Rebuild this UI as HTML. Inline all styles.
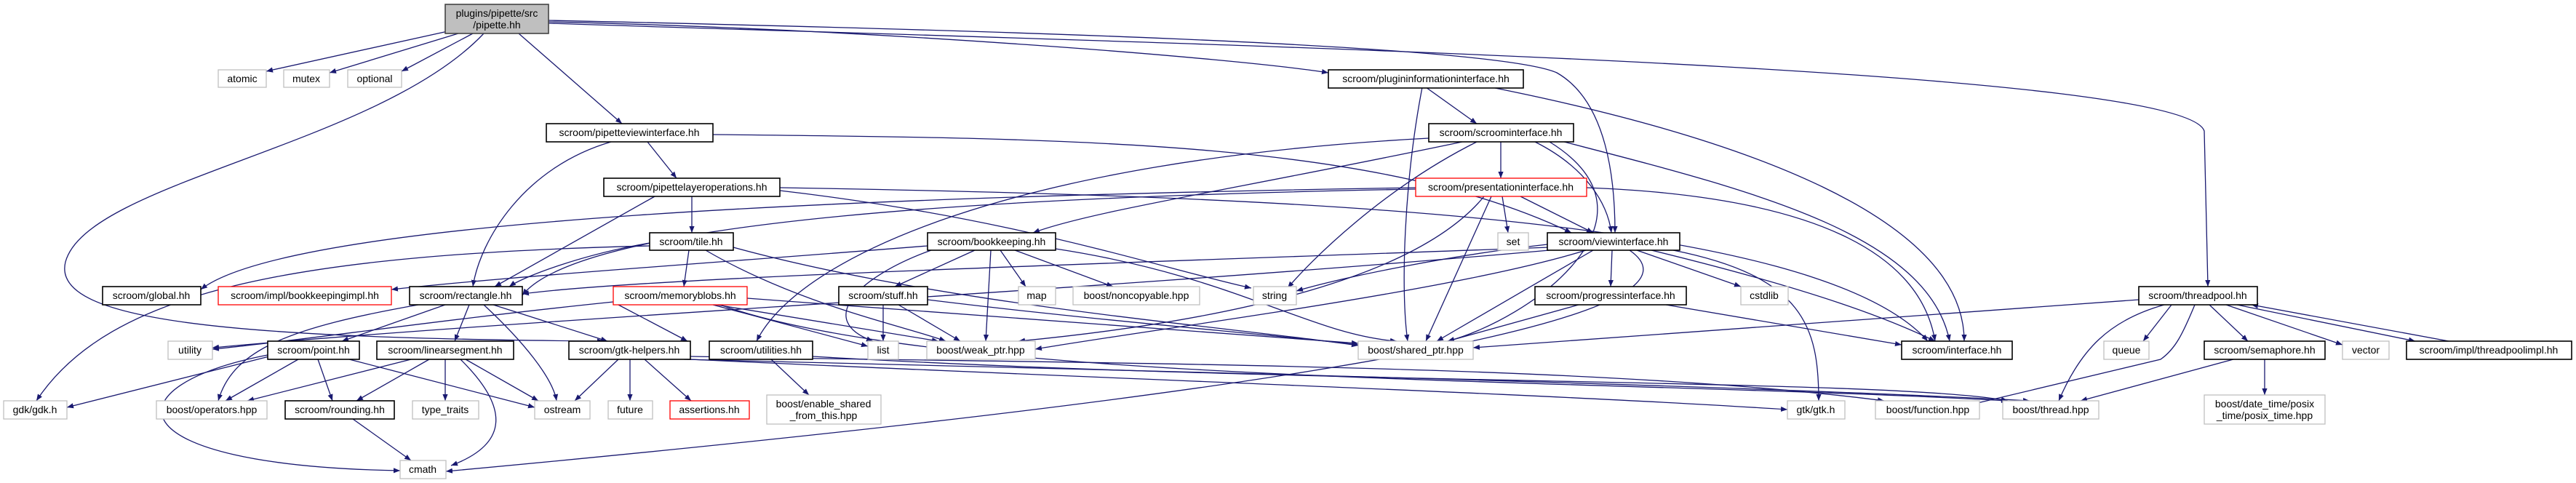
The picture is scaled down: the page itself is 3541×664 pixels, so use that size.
<!DOCTYPE html>
<html><head><meta charset="utf-8"><style>
html,body{margin:0;padding:0;background:#fff;}
svg{display:block;}
text{font-family:"Liberation Sans",sans-serif;font-size:14px;fill:#000;text-anchor:middle;}
.e{fill:none;stroke:#191970;stroke-width:1.3;marker-end:url(#a);}
.n{fill:#fff;stroke:#000;stroke-width:1.6;}
.s{fill:#fff;stroke:#bfbfbf;stroke-width:1.3;}
.r{fill:#fff;stroke:#ff0000;stroke-width:1.3;}
</style></head><body>
<svg width="3541" height="664" viewBox="0 0 3541 664" xmlns="http://www.w3.org/2000/svg">
<defs><marker id="a" viewBox="0 0 10 10" refX="10" refY="5" markerWidth="9" markerHeight="9" markerUnits="userSpaceOnUse" orient="auto"><path d="M0,1 L10,5 L0,9 z" fill="#191970"/></marker></defs>
<g>
<!-- pipette edges -->
<path class="e" d="M620 42 L366 98"/>
<path class="e" d="M630 46 L453 100"/>
<path class="e" d="M650 46 L552 98"/>
<path class="e" d="M665 46 C520 200,120 250,90 360 C70 440,300 465,830 469"/>
<path class="e" d="M713 46 L855 170"/>
<path class="e" d="M754 30 C1200 40,1700 80,1826 100"/>
<path class="e" d="M754 28 C1300 40,2050 60,2140 100 C2210 140,2220 250,2220 320"/>
<path class="e" d="M754 32 C1600 60,3000 90,3030 180 L3035 394"/>
<!-- pipetteview -->
<path class="e" d="M840 195 C720 230,660 330,650 394"/>
<path class="e" d="M890 195 L930 245"/>
<path class="e" d="M980 185 C1500 190,1900 195,2160 320"/>
<!-- pipettelayer -->
<path class="e" d="M951 270 L951 320"/>
<path class="e" d="M900 270 L680 394"/>
<path class="e" d="M1072 262 C1400 300,1600 370,1720 396"/>
<path class="e" d="M1072 258 C1800 270,2500 300,2650 469"/>
<!-- plugininfo -->
<path class="e" d="M1960 120 L2030 170"/>
<path class="e" d="M1955 120 C1930 250,1925 400,1935 469"/>
<path class="e" d="M2050 120 C2400 190,2700 300,2700 469"/>
<!-- scroominterface -->
<path class="e" d="M2063 195 L2063 245"/>
<path class="e" d="M2110 195 C2180 230,2210 280,2215 320"/>
<path class="e" d="M2010 195 C1700 260,1500 290,1420 320"/>
<path class="e" d="M2030 195 C1900 260,1800 360,1770 396"/>
<path class="e" d="M2130 195 C2300 300,2100 440,1990 469"/>
<path class="e" d="M2150 195 C2400 260,2650 320,2680 469"/>
<path class="e" d="M1964 190 C1400 220,1100 350,1040 469"/>
<!-- presentation -->
<path class="e" d="M2065 270 L2073 320"/>
<path class="e" d="M2090 270 L2190 320"/>
<path class="e" d="M2050 270 L1960 469"/>
<path class="e" d="M2040 270 C1950 380,1700 440,1400 469"/>
<path class="e" d="M1946 260 C1400 270,800 300,718 406"/>
<path class="e" d="M2181 258 C2500 270,2640 350,2660 469"/>
<path class="e" d="M1946 258 C1200 270,400 300,276 398"/>
<!-- tile -->
<path class="e" d="M947 344 L940 394"/>
<path class="e" d="M893 334 C800 350,720 380,700 394"/>
<path class="e" d="M1008 340 C1300 420,1700 450,1867 475"/>
<path class="e" d="M970 344 C1100 420,1250 450,1300 469"/>
<path class="e" d="M893 338 C400 350,150 400,50 551"/>
<!-- bookkeeping -->
<path class="e" d="M1340 344 L1230 394"/>
<path class="e" d="M1375 344 L1410 394"/>
<path class="e" d="M1395 344 L1530 394"/>
<path class="e" d="M1362 344 L1355 469"/>
<path class="e" d="M1451 342 C1700 380,1800 460,1920 469"/>
<path class="e" d="M1280 344 C1180 380,1120 440,1200 469"/>
<path class="e" d="M1275 338 C1000 360,700 380,538 398"/>
<!-- viewinterface -->
<path class="e" d="M2216 344 L2214 394"/>
<path class="e" d="M2250 344 L2393 394"/>
<path class="e" d="M2300 344 C2480 380,2500 450,2500 551"/>
<path class="e" d="M2270 344 C2500 400,2600 440,2660 469"/>
<path class="e" d="M2190 344 L1975 469"/>
<path class="e" d="M2180 344 C2000 400,1600 450,1423 480"/>
<path class="e" d="M2130 340 C1600 360,900 380,718 404"/>
<path class="e" d="M2127 336 C2000 350,1850 380,1782 400"/>
<path class="e" d="M2240 344 C2350 420,2000 520,613 648"/>
<path class="e" d="M2130 344 C1500 400,700 440,292 478"/>
<!-- progress -->
<path class="e" d="M2170 419 L1990 469"/>
<path class="e" d="M2290 419 L2614 474"/>
<!-- memoryblobs -->
<path class="e" d="M850 419 L945 469"/>
<path class="e" d="M980 419 L1193 476"/>
<path class="e" d="M985 419 L1290 469"/>
<path class="e" d="M1027 410 C1400 440,1700 460,1867 472"/>
<path class="e" d="M843 415 C600 440,400 470,292 480"/>
<path class="e" d="M990 419 C1300 530,2200 520,2760 551"/>
<!-- stuff -->
<path class="e" d="M1214 419 L1214 469"/>
<path class="e" d="M1235 419 L1320 469"/>
<path class="e" d="M1275 412 C1500 440,1750 460,1867 474"/>
<!-- rectangle -->
<path class="e" d="M612 419 L470 469"/>
<path class="e" d="M645 419 L625 469"/>
<path class="e" d="M678 419 L835 469"/>
<path class="e" d="M665 419 C720 470,760 520,765 551"/>
<path class="e" d="M575 419 C400 450,320 480,300 551"/>
<!-- point -->
<path class="e" d="M370 490 L92 560"/>
<path class="e" d="M410 494 L310 551"/>
<path class="e" d="M437 494 L457 551"/>
<path class="e" d="M480 494 L735 560"/>
<path class="e" d="M368 488 C150 530,150 640,550 647"/>
<!-- linearsegment -->
<path class="e" d="M565 494 L340 551"/>
<path class="e" d="M590 494 L490 551"/>
<path class="e" d="M612 494 L612 551"/>
<path class="e" d="M640 494 L740 551"/>
<path class="e" d="M633 494 C700 560,700 610,620 640"/>
<path class="e" d="M485 576 L565 633"/>
<!-- gtk-helpers -->
<path class="e" d="M850 494 L790 551"/>
<path class="e" d="M866 494 L866 551"/>
<path class="e" d="M886 494 L950 551"/>
<path class="e" d="M949 490 C1500 500,2200 500,2590 551"/>
<path class="e" d="M940 494 C1600 510,2400 530,2790 551"/>
<path class="e" d="M949 494 C1500 520,2100 540,2457 563"/>
<!-- utilities -->
<path class="e" d="M1060 494 L1112 543"/>
<path class="e" d="M1117 490 C1800 530,2600 520,2760 551"/>
<!-- threadpool -->
<path class="e" d="M2985 419 L2946 469"/>
<path class="e" d="M3037 419 L3090 469"/>
<path class="e" d="M3060 419 L3220 474"/>
<path class="e" d="M3075 419 L3320 469"/>
<path class="e" d="M3366 469 L3095 419"/>
<path class="e" d="M2975 419 C2900 440,2860 480,2830 551"/>
<path class="e" d="M3017 419 C3000 460,2990 480,2970 494 L2710 556"/>
<path class="e" d="M2940 412 L2025 478"/>
<path class="e" d="M3113 494 L3113 543"/>
<path class="e" d="M3070 494 L2860 551"/>
</g>
<!-- nodes -->
<rect x="612" y="6" width="142" height="40" fill="#bfbfbf" stroke="#444" stroke-width="1.6"/>
<text x="683" y="23">plugins/pipette/src</text><text x="683" y="39">/pipette.hh</text>
<g>
<rect class="s" x="300" y="96" width="66" height="24"/><text x="333" y="113">atomic</text>
<rect class="s" x="390" y="96" width="63" height="24"/><text x="421" y="113">mutex</text>
<rect class="s" x="478" y="96" width="74" height="24"/><text x="515" y="113">optional</text>
<rect class="n" x="751" y="170" width="229" height="25"/><text x="865" y="187">scroom/pipetteviewinterface.hh</text>
<rect class="n" x="830" y="245" width="242" height="25"/><text x="951" y="262">scroom/pipettelayeroperations.hh</text>
<rect class="n" x="1826" y="96" width="268" height="25"/><text x="1960" y="113">scroom/plugininformationinterface.hh</text>
<rect class="n" x="1964" y="170" width="199" height="25"/><text x="2063" y="187">scroom/scroominterface.hh</text>
<rect class="r" x="1946" y="245" width="235" height="25"/><text x="2063" y="262">scroom/presentationinterface.hh</text>
<rect class="n" x="893" y="320" width="115" height="24"/><text x="950" y="337">scroom/tile.hh</text>
<rect class="n" x="1275" y="320" width="176" height="24"/><text x="1363" y="337">scroom/bookkeeping.hh</text>
<rect class="s" x="2059" y="320" width="42" height="24"/><text x="2080" y="337">set</text>
<rect class="n" x="2127" y="320" width="182" height="24"/><text x="2218" y="337">scroom/viewinterface.hh</text>
<rect class="n" x="141" y="394" width="135" height="25"/><text x="208" y="411">scroom/global.hh</text>
<rect class="r" x="300" y="394" width="238" height="25"/><text x="419" y="411">scroom/impl/bookkeepingimpl.hh</text>
<rect class="n" x="563" y="394" width="155" height="25"/><text x="640" y="411">scroom/rectangle.hh</text>
<rect class="r" x="843" y="394" width="184" height="25"/><text x="935" y="411">scroom/memoryblobs.hh</text>
<rect class="n" x="1153" y="394" width="122" height="25"/><text x="1214" y="411">scroom/stuff.hh</text>
<rect class="s" x="1400" y="394" width="51" height="25"/><text x="1425" y="411">map</text>
<rect class="s" x="1475" y="394" width="174" height="25"/><text x="1562" y="411">boost/noncopyable.hpp</text>
<rect class="s" x="1723" y="394" width="59" height="25"/><text x="1752" y="411">string</text>
<rect class="n" x="2110" y="394" width="208" height="25"/><text x="2214" y="411">scroom/progressinterface.hh</text>
<rect class="s" x="2393" y="394" width="65" height="25"/><text x="2425" y="411">cstdlib</text>
<rect class="n" x="2940" y="394" width="163" height="25"/><text x="3021" y="411">scroom/threadpool.hh</text>
<rect class="s" x="231" y="469" width="61" height="25"/><text x="261" y="486">utility</text>
<rect class="n" x="368" y="469" width="126" height="25"/><text x="431" y="486">scroom/point.hh</text>
<rect class="n" x="518" y="469" width="188" height="25"/><text x="612" y="486">scroom/linearsegment.hh</text>
<rect class="n" x="782" y="469" width="167" height="25"/><text x="865" y="486">scroom/gtk-helpers.hh</text>
<rect class="n" x="975" y="469" width="142" height="25"/><text x="1046" y="486">scroom/utilities.hh</text>
<rect class="s" x="1193" y="469" width="42" height="25"/><text x="1214" y="486">list</text>
<rect class="s" x="1274" y="469" width="149" height="25"/><text x="1348" y="486">boost/weak_ptr.hpp</text>
<rect class="s" x="1867" y="469" width="158" height="25"/><text x="1946" y="486">boost/shared_ptr.hpp</text>
<rect class="n" x="2614" y="469" width="152" height="25"/><text x="2690" y="486">scroom/interface.hh</text>
<rect class="s" x="2892" y="469" width="62" height="25"/><text x="2923" y="486">queue</text>
<rect class="n" x="3030" y="469" width="166" height="25"/><text x="3113" y="486">scroom/semaphore.hh</text>
<rect class="s" x="3220" y="469" width="64" height="25"/><text x="3252" y="486">vector</text>
<rect class="n" x="3308" y="469" width="227" height="25"/><text x="3421" y="486">scroom/impl/threadpoolimpl.hh</text>
<rect class="s" x="5" y="551" width="87" height="25"/><text x="48" y="568">gdk/gdk.h</text>
<rect class="s" x="215" y="551" width="152" height="25"/><text x="291" y="568">boost/operators.hpp</text>
<rect class="n" x="392" y="551" width="150" height="25"/><text x="467" y="568">scroom/rounding.hh</text>
<rect class="s" x="567" y="551" width="91" height="25"/><text x="612" y="568">type_traits</text>
<rect class="s" x="735" y="551" width="76" height="25"/><text x="773" y="568">ostream</text>
<rect class="s" x="836" y="551" width="61" height="25"/><text x="866" y="568">future</text>
<rect class="r" x="921" y="551" width="109" height="25"/><text x="975" y="568" style="fill:#000">assertions.hh</text>
<rect class="s" x="1054" y="543" width="157" height="40"/><text x="1132" y="560">boost/enable_shared</text><text x="1132" y="576">_from_this.hpp</text>
<rect class="s" x="2457" y="551" width="79" height="25"/><text x="2496" y="568">gtk/gtk.h</text>
<rect class="s" x="2578" y="551" width="143" height="25"/><text x="2650" y="568">boost/function.hpp</text>
<rect class="s" x="2753" y="551" width="132" height="25"/><text x="2819" y="568">boost/thread.hpp</text>
<rect class="s" x="3030" y="543" width="166" height="40"/><text x="3113" y="560">boost/date_time/posix</text><text x="3113" y="576">_time/posix_time.hpp</text>
<rect class="s" x="550" y="633" width="63" height="25"/><text x="581" y="650">cmath</text>
</g>
</svg>
</body></html>
